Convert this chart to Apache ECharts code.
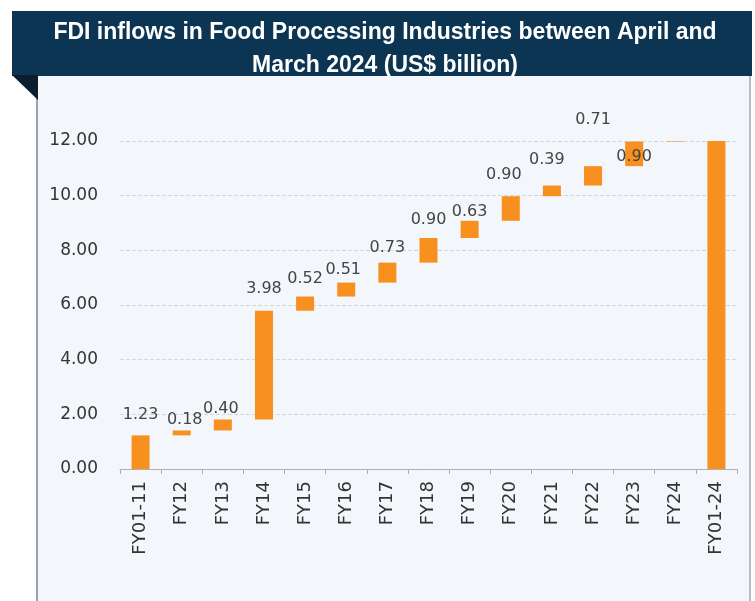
<!DOCTYPE html>
<html>
<head>
<meta charset="utf-8">
<script src="https://cdn.jsdelivr.net/npm/echarts@6/dist/echarts.min.js"></script>
<style>
html,body{margin:0;padding:0;background:#ffffff;}
#chart{width:755px;height:601px;}
</style>
</head>
<body>
<div id="chart"></div>
<script>
var categories = ['FY01-11','FY12','FY13','FY14','FY15','FY16','FY17','FY18','FY19','FY20','FY21','FY22','FY23','FY24','FY01-24'];
var increments = [1.23,0.18,0.40,3.98,0.52,0.51,0.73,0.90,0.63,0.90,0.39,0.71,0.90,0.03];
var totalValue = 12.01;
var labelShown = [true,true,true,true,true,true,true,true,true,true,true,true,true,false,false];
var yTicks = [0,2,4,6,8,10,12];

// label nudges (styling only, in pixels) to mimic the original label placement
var labelNudge = [[0,-7],[3,3],[-2,3],[0,-8],[0,-4],[-3,1],[0,-1],[0,-4],[0,5],[-7,-7],[-5,-12],[0,-32],[0,29],[0,0],[0,0]];

var baseData = [];
var valueData = [];
var running = 0;
for (var i = 0; i < increments.length; i++) {
  baseData.push(+running.toFixed(2));
  valueData.push(increments[i]);
  running += increments[i];
}
baseData.push(0);
valueData.push(totalValue);

var valueItems = valueData.map(function (v, i) {
  return {value: v, label: {offset: labelNudge[i]}};
});

var chart = echarts.init(document.getElementById('chart'));
chart.setOption({
  backgroundColor: '#ffffff',
  animation: false,
  title: {
    text: 'FDI inflows in Food Processing Industries between April and\nMarch 2024 (US$ billion)',
    left: 380, top: 11, textAlign: 'center',
    textStyle: {color: '#ffffff', fontSize: 23, fontWeight: 'bold', fontFamily: 'Liberation Sans, Arial, sans-serif', lineHeight: 33}
  },
  graphic: [
    {type: 'rect', shape: {x: 37, y: 60, width: 714, height: 541}, style: {fill: '#f3f6fa'}, z: -10},
    {type: 'line', shape: {x1: 37, y1: 75, x2: 37, y2: 601}, style: {stroke: '#9aa3ad', lineWidth: 2}, z: -9},
    {type: 'line', shape: {x1: 750, y1: 75, x2: 750, y2: 601}, style: {stroke: '#b5bcc4', lineWidth: 2}, z: -9},
    {type: 'rect', shape: {x: 12, y: 11, width: 740, height: 65}, style: {fill: '#0b3553'}, z: -8},
    {type: 'polygon', shape: {points: [[12, 75], [38, 75], [38, 100]]}, style: {fill: '#0a1e2e'}, z: -8}
  ],
  grid: {left: 120, right: 18, top: 141, bottom: 132},
  xAxis: {
    type: 'category',
    data: categories,
    axisLine: {lineStyle: {color: '#a9b0b8', width: 1}},
    axisTick: {show: true, alignWithLabel: false, lineStyle: {color: '#a9b0b8'}},
    axisLabel: {rotate: 90, color: '#333333', fontSize: 18, margin: 12, fontFamily: 'DejaVu Sans, sans-serif'}
  },
  yAxis: {
    type: 'value',
    min: 0, max: 12, interval: 2,
    axisLine: {show: false},
    axisTick: {show: false},
    axisLabel: {color: '#333333', fontSize: 17, margin: 22, fontFamily: 'DejaVu Sans, sans-serif',
      formatter: function (v) { return yTicks.indexOf(v) >= 0 ? v.toFixed(2) : ''; }},
    splitLine: {lineStyle: {color: '#d4d8de', type: 'dashed', width: 1}}
  },
  series: [
    {
      type: 'bar', stack: 'w', barWidth: 18,
      itemStyle: {color: 'transparent'},
      emphasis: {disabled: true},
      data: baseData
    },
    {
      type: 'bar', stack: 'w', barWidth: 18,
      itemStyle: {color: '#f7901e'},
      label: {
        show: true, position: 'top', color: '#444444', fontSize: 16, distance: 6,
        fontFamily: 'DejaVu Sans, sans-serif',
        formatter: function (p) { return labelShown[p.dataIndex] ? Number(p.value).toFixed(2) : ''; }
      },
      data: valueItems
    }
  ]
});
</script>
</body>
</html>
